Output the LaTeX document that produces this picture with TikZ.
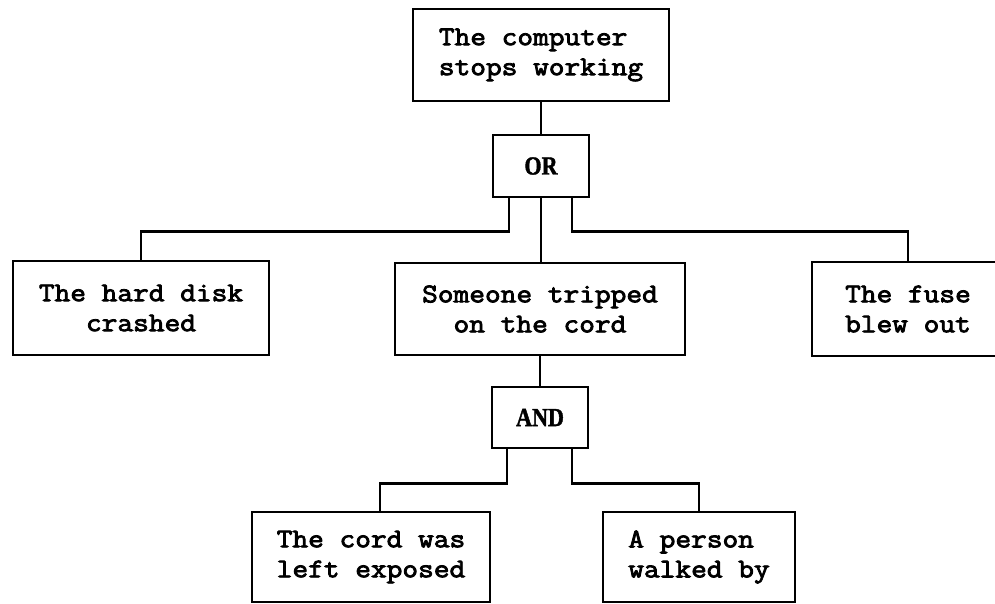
\documentclass[tikz,border=0pt]{standalone}
\usepackage{fontspec}
\newfontfamily\boxfont[FakeBold=3,FakeStretch=1.13]{Latin Modern Mono}
\newfontfamily\gatefont[FakeStretch=0.85,FakeBold=1.5]{Liberation Serif}
\begin{document}
\begin{tikzpicture}[x=1pt,y=-1pt,
  event/.style={draw,line width=2.8pt,inner sep=0pt,
    font=\boxfont\fontsize{27}{30}\selectfont},
  gate/.style={draw,line width=2.8pt,inner sep=0pt,
    font=\gatefont\bfseries\fontsize{26}{30}\selectfont},
  wire/.style={line width=2.8pt}]
\useasboundingbox (0,0) rectangle (995,604);
\begin{scope}
\clip (0,0) rectangle (995,604);

% top event and OR gate
\node[event,minimum width=256pt,minimum height=92pt,align=left] (top) at (541,55)
  {The computer\\stops working};
\node[gate,minimum width=96pt,minimum height=62pt] (or) at (541,166) {OR};

% first level of causes
\node[event,minimum width=256pt,minimum height=94pt,align=center] (disk) at (141,308)
  {The hard disk\\crashed};
\node[event,minimum width=290pt,minimum height=92pt,align=center] (trip) at (540,309)
  {Someone tripped\\on the cord};
\node[event,minimum width=192pt,minimum height=94pt,align=left] (fuse) at (908,309)
  {The fuse\\blew out};

% AND gate and its inputs
\node[gate,minimum width=96pt,minimum height=61pt] (and) at (540,417.5) {AND};
\node[event,minimum width=238pt,minimum height=90pt,align=left] (cord) at (371,557)
  {The cord was\\left exposed};
\node[event,minimum width=192pt,minimum height=90pt,align=left] (walk) at (699,557)
  {A person\\walked by};

% connectors
\draw[wire] (top.south) -- (or.north);
\draw[wire] ([xshift=-32pt]or.south) -- ++(0,33) -| (disk.north);
\draw[wire] (or.south) -- (or.south |- trip.north);
\draw[wire] ([xshift=31pt]or.south) -- ++(0,33) -| (fuse.north);
\draw[wire] (trip.south) -- (trip.south |- and.north);
\draw[wire] ([xshift=-33pt]and.south) -- ++(0,34) -| ([xshift=9pt]cord.north);
\draw[wire] ([xshift=32pt]and.south) -- ++(0,34) -| (walk.north);
\end{scope}
\end{tikzpicture}
\end{document}
